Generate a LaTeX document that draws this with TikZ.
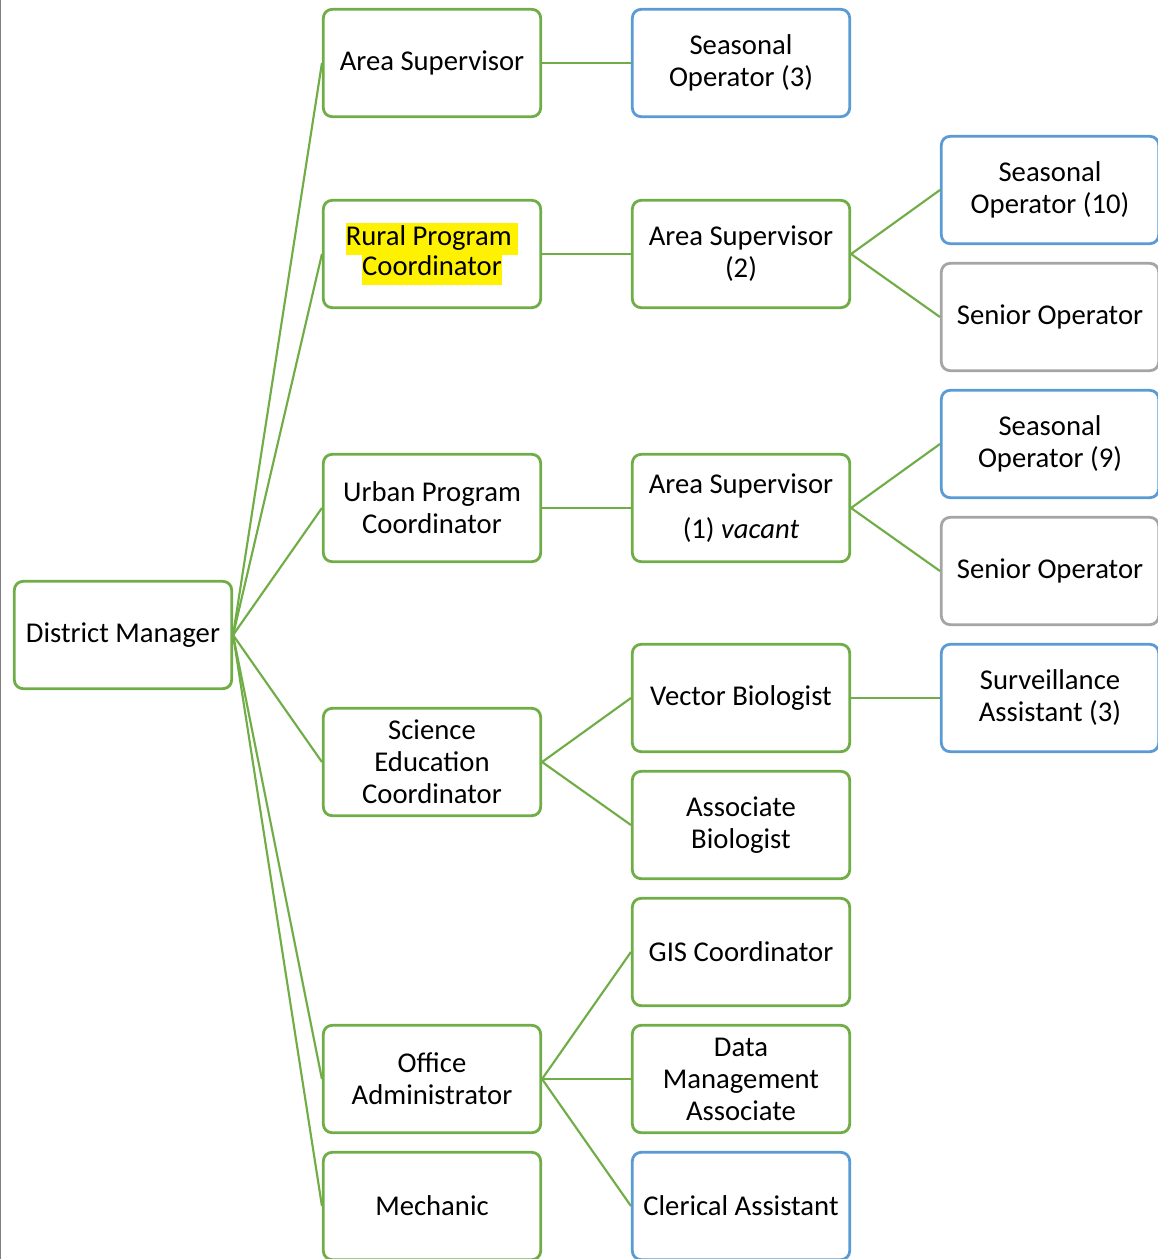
\documentclass[tikz,border=0pt]{standalone}
\usepackage{fontspec}
\setmainfont{Carlito}
\usepackage{xcolor}
\definecolor{boxgreen}{HTML}{70AD47}
\definecolor{boxblue}{HTML}{5B9BD5}
\definecolor{boxgrey}{HTML}{A5A5A5}
\newcommand{\hilite}[1]{{\setlength{\fboxsep}{0pt}\colorbox{yellow}{\strut #1}}}

\begin{document}
\begin{tikzpicture}[x=0.75pt,y=-0.75pt,
  post/.style={draw=boxgreen,line width=2.1pt,rounded corners=6.5pt,fill=white,
    minimum width=163pt,minimum height=80.5pt,align=center,inner sep=2pt,
    font=\fontsize{21.5}{24}\selectfont},
  bluepost/.style={post,draw=boxblue},
  greypost/.style={post,draw=boxgrey},
  link/.style={draw=boxgreen,line width=1.6pt}]
  \useasboundingbox (0,0) rectangle (1157,1259);
  \draw[gray,line width=1pt] (0.5,0) -- (0.5,1259);
  % columns
  \node[post] (dm) at (123,635) {District Manager};
  \node[post] (as) at (432,63) {Area Supervisor};
  \node[post] (rpc) at (432,254) {\hilite{Rural Program\ }\\[-2pt]\hilite{Coordinator}};
  \node[post] (upc) at (432,508) {Urban Program\\Coordinator};
  \node[post] (sec) at (432,762) {Science\\Education\\Coordinator};
  \node[post] (oa) at (432,1079) {Office\\Administrator};
  \node[post] (mech) at (432,1206) {Mechanic};
  \node[bluepost] (so3) at (741,63) {Seasonal\\Operator (3)};
  \node[post] (as2) at (741,254) {Area Supervisor\\(2)};
  \node[post] (as1) at (741,508) {Area Supervisor\\[10pt](1) \textit{vacant}};
  \node[post] (vb) at (741,698) {Vector Biologist};
  \node[post] (ab) at (741,825) {Associate\\Biologist};
  \node[post] (gis) at (741,952) {GIS Coordinator};
  \node[post] (dma) at (741,1079) {Data\\Management\\Associate};
  \node[bluepost] (ca) at (741,1206) {Clerical Assistant};
  \node[bluepost] (so10) at (1050,190) {Seasonal\\Operator (10)};
  \node[greypost] (sen1) at (1050,317) {Senior Operator};
  \node[bluepost] (so9) at (1050,444) {Seasonal\\Operator (9)};
  \node[greypost] (sen2) at (1050,571) {Senior Operator};
  \node[bluepost] (sa3) at (1050,698) {Surveillance\\Assistant (3)};
  % links
  \foreach \k in {as,rpc,upc,sec,oa,mech}
    \draw[link] (dm.east) -- (\k.west);
  \draw[link] (as.east) -- (so3.west);
  \draw[link] (rpc.east) -- (as2.west);
  \draw[link] (upc.east) -- (as1.west);
  \draw[link] (sec.east) -- (vb.west);
  \draw[link] (sec.east) -- (ab.west);
  \foreach \k in {gis,dma,ca}
    \draw[link] (oa.east) -- (\k.west);
  \draw[link] (as2.east) -- (so10.west);
  \draw[link] (as2.east) -- (sen1.west);
  \draw[link] (as1.east) -- (so9.west);
  \draw[link] (as1.east) -- (sen2.west);
  \draw[link] (vb.east) -- (sa3.west);
\end{tikzpicture}
\end{document}
